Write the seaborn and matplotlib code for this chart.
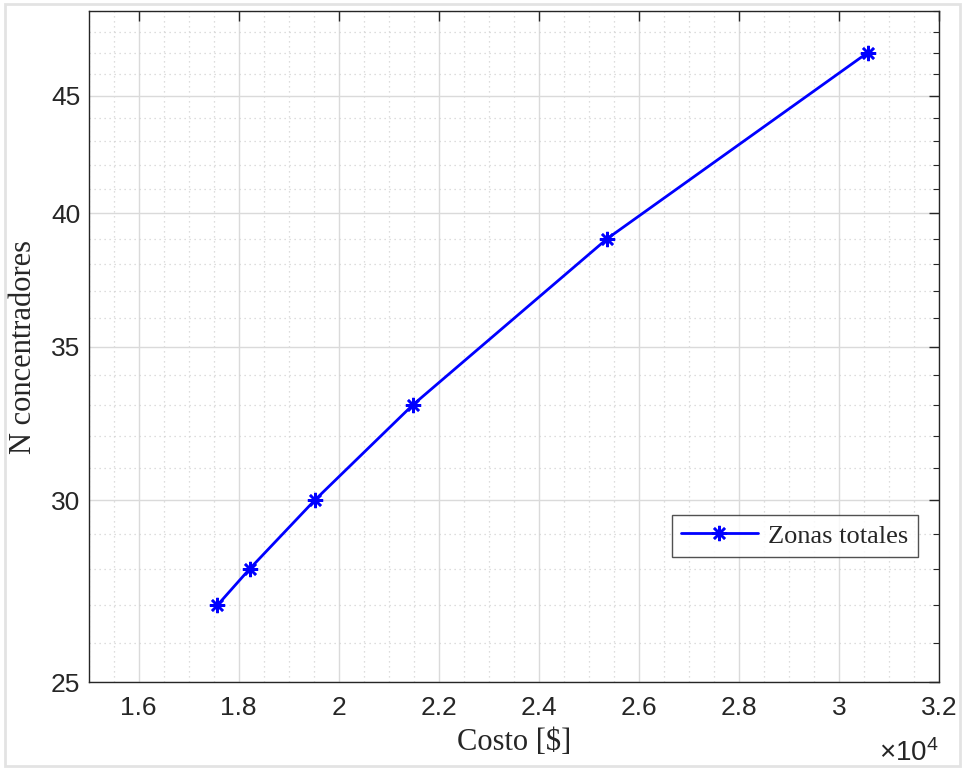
#plot.py -> costo vs numero de concentradores

import numpy as np
import matplotlib
matplotlib.use("Agg")
import matplotlib.pyplot as plt
import matplotlib.ticker as mticker
from matplotlib.patches import Rectangle
import seaborn as sns

#data
costo = [17576, 18219, 19522, 21477, 25370, 30577] #[$]
n_conc = [27, 28, 30, 33, 39, 47]
serie = "Zonas totales"

x_ticks = [16000, 18000, 20000, 22000, 24000, 26000, 28000, 30000, 32000]
y_ticks = [25, 30, 35, 40, 45]
y_minor = list(range(25, 50))

sns.set_theme(style="white")
plt.rcParams["font.family"] = ["Liberation Sans", "DejaVu Sans"]
plt.rcParams["mathtext.default"] = "regular"

fig = plt.figure(figsize=(9.64, 7.7), dpi=100)
ax = fig.add_axes([88.5 / 964, 1 - 682 / 770, 850.5 / 964, 671 / 770])

sns.lineplot(x=costo, y=n_conc, ax=ax, color="blue", linewidth=2.0,
             marker=(8, 2, 0), markersize=11, markeredgewidth=1.8,
             markeredgecolor="blue", label=serie)

ax.set_yscale("log")
ax.set_xlim(15000, 32000)
ax.set_ylim(25, 49)

ax.xaxis.set_major_locator(mticker.FixedLocator(x_ticks))
ax.xaxis.set_minor_locator(mticker.MultipleLocator(500))
ax.xaxis.set_major_formatter(mticker.FuncFormatter(lambda v, p: f"{v/1e4:g}"))
ax.yaxis.set_major_locator(mticker.FixedLocator(y_ticks))
ax.yaxis.set_minor_locator(mticker.FixedLocator(y_minor))
ax.yaxis.set_major_formatter(mticker.FuncFormatter(lambda v, p: f"{v:g}"))
ax.yaxis.set_minor_formatter(mticker.NullFormatter())

#grid: solid major, dotted minor
ax.grid(True, which="major", color="#dadada", linewidth=1.0, linestyle="-")
ax.grid(True, which="minor", color="#d2d2d2", linewidth=0.9, linestyle=(0, (1, 3)))
ax.set_axisbelow(True)

for s in ax.spines.values():
    s.set_color("#262626")
    s.set_linewidth(1.0)
ax.tick_params(which="both", direction="in", top=True, right=True,
               colors="#262626", labelsize=19, labelcolor="#262626")
ax.tick_params(axis="x", which="major", length=7, width=1.0, pad=10)
ax.tick_params(axis="y", which="major", length=7, width=1.0, pad=6)
ax.tick_params(axis="x", which="minor", length=0)
ax.tick_params(axis="y", which="minor", length=4, width=0.8)

ax.set_xlabel("Costo [$]", fontfamily="Liberation Serif", fontsize=22,
              color="#262626", labelpad=6)
ax.set_ylabel("N concentradores", fontfamily="Liberation Serif", fontsize=22,
              color="#262626", labelpad=9)

#x10^4 multiplier under right end of the axis
ax.text(1.0, -0.106, "\u00d7" + r"$10^{\mathregular{4}}$", transform=ax.transAxes,
        ha="right", va="center", fontsize=20, color="#262626")

leg = ax.legend(loc="upper left", bbox_to_anchor=(0.686, 0.249), borderaxespad=0,
                prop={"family": "Liberation Serif", "size": 19}, frameon=True,
                fancybox=False, handlelength=2.9, borderpad=0.35, handletextpad=0.4)
leg.get_frame().set_edgecolor("#262626")
leg.get_frame().set_linewidth(1.0)

#light border around the whole figure
fig.patches.append(Rectangle((5 / 964, 4 / 770), 955 / 964, 762 / 770,
                             transform=fig.transFigure, fill=False,
                             edgecolor="#e3e3e3", linewidth=2.0))

fig.savefig("out.png", dpi=100, facecolor="white")
